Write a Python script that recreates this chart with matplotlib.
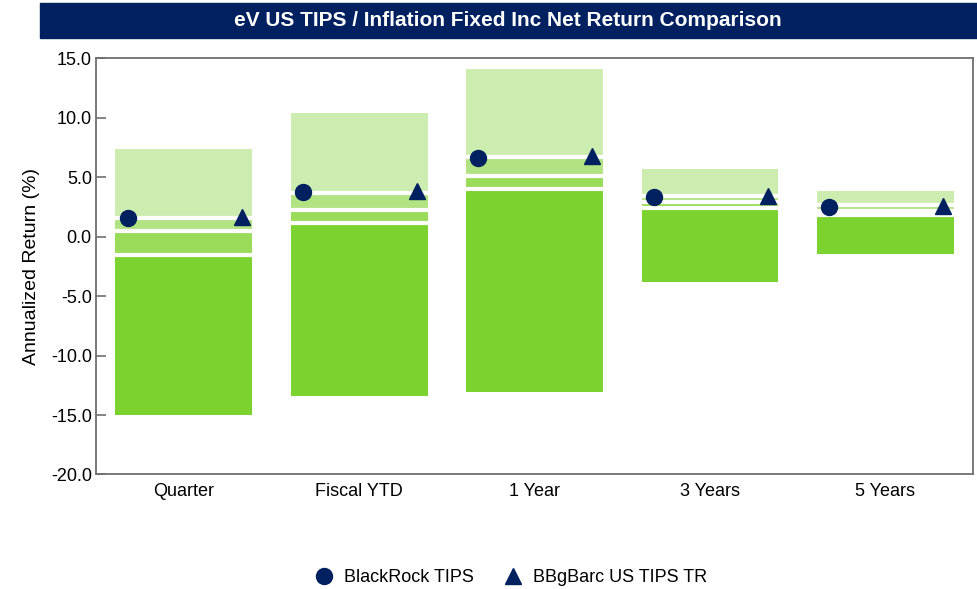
import numpy as np
import matplotlib
matplotlib.use('Agg')
import matplotlib.pyplot as plt
from matplotlib.patches import Rectangle
from matplotlib import rcParams

rcParams['font.family'] = ['Liberation Sans', 'DejaVu Sans']
rcParams['font.size'] = 13

categories = ['Quarter', 'Fiscal YTD', '1 Year', '3 Years', '5 Years']

# peer universe percentiles: 5th, 25th, median, 75th, 95th
p05 = [7.4, 10.4, 14.1, 5.7, 3.85]
p25 = [1.6, 3.7, 6.7, 3.4, 2.65]
p50 = [0.5, 2.25, 5.1, 2.92, 2.2]
p75 = [-1.5, 1.15, 4.0, 2.37, 1.8]
p95 = [-15.0, -13.4, -13.1, -3.8, -1.45]

blackrock = [1.58, 3.76, 6.63, 3.35, 2.53]
benchmark = [1.65, 3.8, 6.8, 3.42, 2.6]

band_colors = ['#cdedb0', '#b1e383', '#9bdb5a', '#7cd32f']
navy = '#002060'

fig = plt.figure(figsize=(9.77, 5.89), dpi=100)
ax = fig.add_axes([0.0983, 0.1944, 0.8976, 0.7066])

x = np.arange(len(categories))
width = 0.78
bounds = [p05, p25, p50, p75, p95]
for i in range(4):
    top = np.array(bounds[i])
    bot = np.array(bounds[i + 1])
    ax.bar(x, top - bot, bottom=bot, width=width, color=band_colors[i],
           linewidth=0, zorder=2)

# white separators between the bands
for b in [p25, p50, p75]:
    ax.hlines(b, x - width / 2, x + width / 2, color='white', linewidth=3,
              zorder=3)

ax.plot(x - 0.32, blackrock, 'o', color=navy, markersize=11.5, zorder=4,
        label='BlackRock TIPS')
ax.plot(x + 0.33, benchmark, '^', color=navy, markersize=11.5, zorder=4,
        label='BBgBarc US TIPS TR')

ax.set_xlim(-0.5, 4.5)
ax.set_ylim(-20, 15)
ax.set_yticks(np.arange(-20, 16, 5))
ax.set_yticklabels(['%.1f' % v for v in np.arange(-20, 16, 5)])
ax.set_xticks(x)
ax.set_xticklabels(categories)
ax.tick_params(axis='y', direction='in', length=7, width=1.2,
               color='#707070', pad=3)
ax.tick_params(axis='x', length=0, pad=6)
for s in ax.spines.values():
    s.set_color('#707070')
    s.set_linewidth(1.3)
ax.set_ylabel('Annualized Return (%)', fontsize=14, labelpad=8)

ax.legend(loc='center', bbox_to_anchor=(0.522, 0.019),
          bbox_transform=fig.transFigure, ncol=2, frameon=False,
          handlelength=1.2, columnspacing=1.6, handletextpad=0.5,
          fontsize=13)

# title banner
fig.patches.append(Rectangle((40 / 977, 1 - 38 / 589), 937 / 977, 35 / 589,
                             transform=fig.transFigure, color=navy,
                             zorder=0))
fig.text(508 / 977, 1 - 20.5 / 589,
         'eV US TIPS / Inflation Fixed Inc Net Return Comparison',
         ha='center', va='center', color='white', fontsize=15,
         fontweight='bold',
         family=['Liberation Sans Narrow', 'Liberation Sans', 'DejaVu Sans'])

fig.savefig('out.png', dpi=100)
